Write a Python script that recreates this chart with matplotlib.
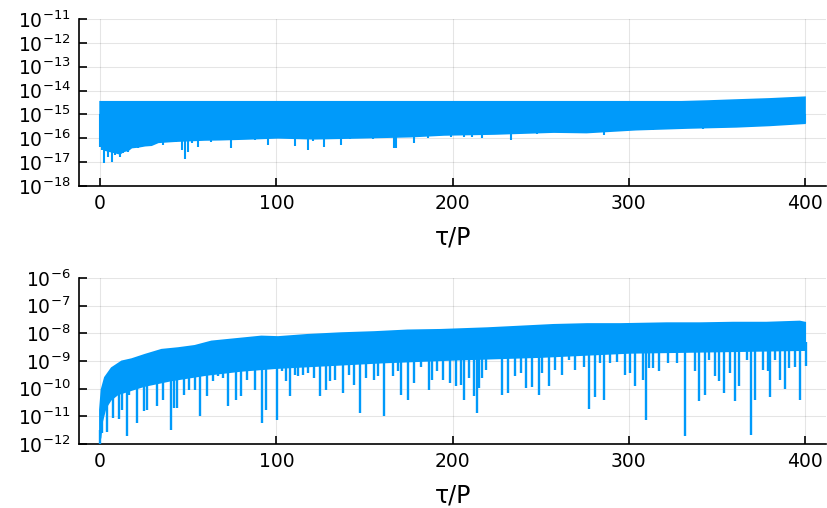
import numpy as np
import matplotlib
matplotlib.use("Agg")
import matplotlib.pyplot as plt
from matplotlib.ticker import FixedLocator, NullLocator

plt.rcParams['font.family'] = ['Liberation Sans Narrow', 'DejaVu Sans']
plt.rcParams['mathtext.fontset'] = 'custom'
plt.rcParams['mathtext.rm'] = 'Liberation Sans Narrow'
plt.rcParams['mathtext.it'] = 'Liberation Sans Narrow:italic'
plt.rcParams['mathtext.bf'] = 'Liberation Sans Narrow:bold'

# ---------------- data (log10 values) ----------------
# top panel: upper edge of the dense band
top_hi_tau = [0, 330, 345, 360, 380, 400]
top_hi = [-14.47, -14.47, -14.44, -14.40, -14.35, -14.28]
# top panel: usual lower edge of the band
top_base_tau = [0, 3, 8.5, 11.3, 13.2, 16, 17.9, 21.7, 25.5, 29.2, 33, 38.7, 43, 59.4,
                68, 82, 100.9, 121, 148, 176.3, 195.2, 224, 257.4, 276, 304, 333, 361,
                379.9, 400]
top_base = [-16.2, -16.5, -16.6, -16.65, -16.55, -16.5, -16.39, -16.36, -16.31, -16.29,
            -16.17, -16.14, -16.12, -16.07, -16.06, -16.03, -15.98, -16.02, -15.98,
            -15.93, -15.86, -15.82, -15.74, -15.76, -15.64, -15.57, -15.52, -15.46, -15.37]
# top panel: dips below the band
top_dip_tau = [0, 1.3, 2.3, 3.5, 4.7, 6.6, 8.5, 11.3, 13.2, 16, 17.9, 21.7, 25.5, 29.2,
               33, 35.8, 38.7, 43, 46.6, 48.1, 50, 52, 55.6, 59.4, 63, 68, 74.5, 76, 82,
               88, 92, 95.2, 100.9, 106, 110.3, 114, 117.9, 121, 127.3, 132, 136.7, 142,
               148, 155, 161, 166.9, 168, 176.3, 178, 186, 195.2, 199, 201, 206.5, 211,
               216.9, 224, 233, 240, 248, 257.4, 267, 276, 285.7, 295, 304, 314, 323.4,
               333, 342, 351.7, 361, 370, 379.9, 389, 398.8, 400]
top_dip = [-16.35, -16.5, -17.05, -16.2, -16.77, -16.98, -16.7, -16.77, -16.63, -16.56,
           -16.39, -16.39, -16.31, -16.29, -16.17, -16.29, -16.14, -16.14, -16.49, -16.87,
           -16.59, -16.2, -16.35, -16.07, -16.14, -16.07, -16.39, -16.0, -16.03, -16.07,
           -16.03, -16.28, -15.97, -15.97, -16.31, -16.05, -16.49, -16.1, -16.35, -16.0,
           -16.29, -16.05, -16.0, -16.05, -16.0, -16.39, -16.42, -15.93, -16.2, -15.97,
           -15.86, -15.93, -15.79, -15.93, -15.93, -16.0, -15.79, -16.07, -15.79, -15.82,
           -15.72, -15.69, -15.79, -15.86, -15.69, -15.62, -15.65, -15.62, -15.55, -15.62,
           -15.54, -15.51, -15.48, -15.44, -15.37, -15.37, -15.37]

# bottom panel: upper edge of the band
bot_hi_tau = [0, 0.9, 2.8, 6.6, 12.3, 17.9, 25.5, 34.9, 44.3, 53.7, 63.2, 72.6, 82.1,
              91.5, 101, 117.9, 136.7, 155.6, 174.5, 193.3, 219.7, 238.6, 257.4,
              276.3, 295.2, 321.5, 340.4, 359.2, 378.1, 397, 400]
bot_hi = [-10.76, -10.04, -9.6, -9.26, -9.02, -8.94, -8.78, -8.6, -8.54, -8.46, -8.30,
          -8.24, -8.18, -8.12, -8.14, -8.06, -8.0, -7.96, -7.9, -7.88, -7.82, -7.76,
          -7.70, -7.67, -7.67, -7.64, -7.64, -7.62, -7.62, -7.58, -7.62]
# bottom panel: lower edge of the solid part of the band
bot_lo_tau = [0, 1, 3, 6, 10, 15, 25, 40, 60, 80, 100, 130, 160, 200, 250, 300, 350, 400]
bot_lo = [-11.8, -11.2, -10.7, -10.4, -10.2, -10.1, -9.9, -9.7, -9.5, -9.35, -9.25,
          -9.15, -9.05, -8.95, -8.85, -8.7, -8.65, -8.6]
# bottom panel: downward spikes
spike_tau = [0.0, 1.3, 4.1, 7.5, 10.7, 12.3, 15.1, 16.6, 20.7, 24.9, 26.8, 32.0, 35.5,
             40.5, 41.9, 43.4, 47.7, 50.5, 53.7, 56.6, 60.5, 63.8, 67.0, 69.8, 72.6, 77.0,
             80.1, 83.3, 87.7, 92.0, 94.3, 100.5, 103.2, 105.6, 107.5, 110.3, 112.2, 115.0,
             117.9, 121.6, 124.8, 128.2, 130.7, 133.3, 137.7, 141.4, 144.3, 147.7, 150.9,
             155.2, 157.5, 160.9, 166.0, 168.8, 170.7, 174.8, 177.9, 182.0, 186.7, 188.6,
             191.4, 194.3, 198.6, 201.8, 204.6, 206.5, 209.3, 212.2, 213.7, 215.0, 216.9,
             218.8, 228.2, 231.6, 235.7, 238.6, 241.4, 245.2, 248.9, 250.8, 254.6, 258.4,
             262.2, 266.0, 269.7, 274.3, 277.6, 281.0, 283.8, 285.7, 289.5, 293.2, 297.9,
             300.8, 303.6, 308.0, 309.9, 311.2, 314.0, 317.4, 322.5, 327.2, 331.9, 337.6,
             339.8, 343.2, 345.7, 348.9, 351.3, 354.0, 357.4, 360.2, 362.6, 366.8, 369.1,
             371.7, 376.2, 379.1, 380.4, 382.8, 385.7, 388.5, 391.0, 394.2, 397.0, 400.3]
spike_val = [-12.0, -11.6, -11.57, -11.06, -11.08, -10.76, -11.72, -10.22, -11.24, -10.82,
             -10.76, -10.64, -10.4, -11.48, -10.7, -10.7, -10.22, -10.04, -10.04, -11.0,
             -10.28, -9.74, -9.56, -9.62, -10.64, -10.4, -10.28, -9.68, -10.04, -11.24,
             -10.76, -11.12, -9.38, -9.74, -10.28, -9.5, -9.54, -9.5, -9.44, -9.62, -10.28,
             -10.04, -9.74, -9.68, -10.16, -9.5, -9.86, -10.88, -9.62, -9.68, -9.56, -11.0,
             -9.56, -9.38, -10.22, -10.4, -9.8, -9.2, -10.04, -9.68, -9.38, -9.68, -9.8,
             -9.92, -9.86, -10.4, -9.62, -10.28, -10.88, -9.98, -9.62, -9.32, -10.22, -10.16,
             -9.54, -9.44, -9.98, -9.94, -10.22, -9.44, -9.9, -9.32, -9.5, -8.96, -9.32,
             -9.2, -10.74, -10.3, -9.08, -10.4, -9.08, -9.02, -9.5, -9.44, -9.92, -9.68,
             -11.12, -9.26, -9.26, -9.38, -9.08, -9.08, -11.72, -9.38, -10.46, -10.22, -8.96,
             -9.56, -9.74, -10.16, -9.44, -10.46, -9.9, -8.96, -11.66, -10.4, -9.32, -9.38,
             -10.3, -8.96, -9.68, -10.02, -9.26, -9.2, -10.4, -9.18]

xticks = [0, 100, 200, 300, 400]
blue = "#009AFA"

# ---------------- figure ----------------
fig = plt.figure(figsize=(8.27, 5.08), dpi=100)
ax1 = fig.add_axes([0.0955, 0.6339, 0.9035, 0.3287])
ax2 = fig.add_axes([0.0955, 0.126, 0.9035, 0.3268])

# top panel band + thin dips
poly_x = np.concatenate([top_hi_tau, top_base_tau[::-1]])
poly_y = 10.0 ** np.concatenate([top_hi, top_base[::-1]])
ax1.fill(poly_x, poly_y, color=blue, lw=1.2, ec=blue, zorder=3)
ax1.vlines(top_dip_tau, 10.0 ** np.array(top_dip), 10.0 ** -15.0,
           color=blue, lw=1.5, zorder=3)

# bottom panel band + spikes
poly_x = np.concatenate([bot_hi_tau, bot_lo_tau[::-1]])
poly_y = 10.0 ** np.concatenate([bot_hi, bot_lo[::-1]])
ax2.fill(poly_x, poly_y, color=blue, lw=1.5, ec=blue, zorder=3)
spike_top = np.interp(spike_tau, bot_lo_tau, bot_lo) + 0.3
ax2.vlines(spike_tau, 10.0 ** np.array(spike_val), 10.0 ** spike_top,
           color=blue, lw=1.7, zorder=3)

for ax, lo, hi in [(ax1, -18, -11), (ax2, -12, -6)]:
    ax.set_yscale("log")
    ax.set_ylim(10.0 ** lo, 10.0 ** hi)
    ax.set_xlim(-12, 412)
    ax.yaxis.set_major_locator(FixedLocator([10.0 ** e for e in range(lo, hi + 1)]))
    ax.yaxis.set_minor_locator(NullLocator())
    ax.set_yticklabels([r"$10^{%d}$" % e for e in range(lo, hi + 1)])
    ax.set_xticks(xticks)
    ax.grid(True, color="black", alpha=0.1, lw=0.8)
    ax.set_axisbelow(True)
    for s in ["top", "right"]:
        ax.spines[s].set_visible(False)
    for s in ["left", "bottom"]:
        ax.spines[s].set_linewidth(1.2)
    ax.tick_params(direction="in", length=6, width=1.2, labelsize=13.5, pad=6)
    ax.set_xlabel("τ/P", fontsize=17, labelpad=9)

fig.savefig("out.png", dpi=100)
